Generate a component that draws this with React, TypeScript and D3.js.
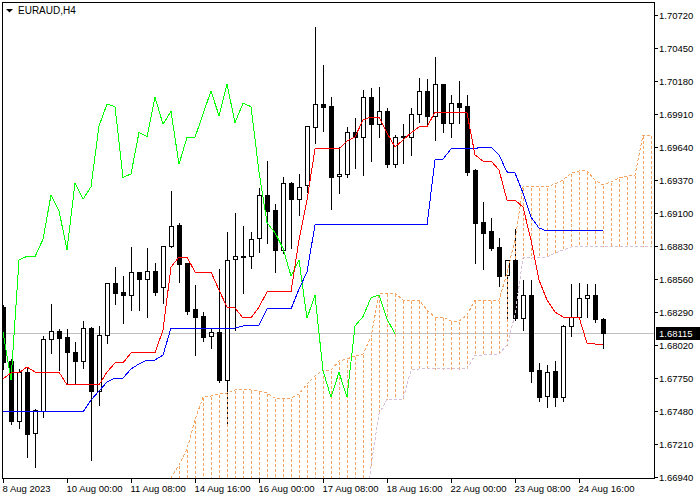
import React from 'react';
import * as d3 from 'd3';

const symbolTitle = 'EURAUD,H4';
const currentPrice = 1.68115;
const chikouShift = 26;

const openPrices = [
  1.68333, 1.67892, 1.67401, 1.67802, 1.67297, 1.67482, 1.68067, 1.68135, 1.68083, 1.67960,
  1.67892, 1.68156, 1.67646, 1.68104, 1.68525, 1.68451, 1.68432, 1.68615, 1.68558, 1.68623,
  1.68497, 1.68827, 1.69002, 1.68688, 1.68312, 1.68257, 1.68094, 1.68124, 1.67734, 1.68721,
  1.68746, 1.68751, 1.68893, 1.69247, 1.69125, 1.68797, 1.69343, 1.69212, 1.69329, 1.69806,
  1.69992, 1.69975, 1.69403, 1.69419, 1.69763, 1.69724, 1.70047, 1.69826, 1.69932, 1.69498,
  1.69730, 1.69719, 1.69908, 1.70098, 1.69896, 1.70153, 1.69839, 1.69998, 1.69975, 1.69452,
  1.69029, 1.68955, 1.68819, 1.68593, 1.68715, 1.68238, 1.68429, 1.67815, 1.67605, 1.67807,
  1.67592, 1.68176, 1.68252, 1.68407, 1.68429, 1.68230,
];
const highPrices = [
  1.68355, 1.67914, 1.67832, 1.67842, 1.67502, 1.68102, 1.68361, 1.68159, 1.68159, 1.68055,
  1.68225, 1.68175, 1.68184, 1.68530, 1.68666, 1.68593, 1.68830, 1.68625, 1.68819, 1.68697,
  1.68838, 1.69288, 1.69026, 1.68699, 1.68519, 1.68301, 1.68165, 1.68650, 1.68953, 1.69111,
  1.69002, 1.68953, 1.69315, 1.69534, 1.69182, 1.69403, 1.69364, 1.69430, 1.69815, 1.70630,
  1.70319, 1.70057, 1.69651, 1.69814, 1.69888, 1.70115, 1.70128, 1.70139, 1.69967, 1.69746,
  1.69834, 1.69970, 1.70210, 1.70202, 1.70385, 1.70160, 1.70074, 1.70188, 1.70071, 1.69468,
  1.69201, 1.69070, 1.68901, 1.68721, 1.68975, 1.68558, 1.68558, 1.67883, 1.67865, 1.67898,
  1.68190, 1.68530, 1.68536, 1.68525, 1.68525, 1.68252,
];
const lowPrices = [
  1.67824, 1.67374, 1.67341, 1.67106, 1.67024, 1.67433, 1.67955, 1.67815, 1.67707, 1.67701,
  1.67829, 1.67079, 1.67529, 1.68039, 1.68355, 1.68202, 1.68306, 1.68306, 1.68247, 1.68429,
  1.68366, 1.68819, 1.68538, 1.68274, 1.67938, 1.68055, 1.67993, 1.67720, 1.67379, 1.68143,
  1.68443, 1.68648, 1.68783, 1.68857, 1.68620, 1.68775, 1.68811, 1.69084, 1.69274, 1.69670,
  1.69773, 1.69130, 1.69266, 1.69392, 1.69466, 1.69411, 1.69528, 1.69719, 1.69479, 1.69479,
  1.69507, 1.69575, 1.69847, 1.69826, 1.69697, 1.69765, 1.69724, 1.69834, 1.69411, 1.68693,
  1.68639, 1.68797, 1.68503, 1.68225, 1.68225, 1.68143, 1.67720, 1.67564, 1.67515, 1.67523,
  1.67564, 1.68094, 1.68238, 1.68252, 1.68211, 1.67998,
];
const closePrices = [
  1.67883, 1.67401, 1.67802, 1.67292, 1.67488, 1.68069, 1.68135, 1.68075, 1.67960, 1.67892,
  1.68156, 1.67646, 1.68104, 1.68525, 1.68448, 1.68432, 1.68615, 1.68558, 1.68623, 1.68456,
  1.68830, 1.68991, 1.68683, 1.68301, 1.68252, 1.68088, 1.68124, 1.67734, 1.68715, 1.68746,
  1.68742, 1.68885, 1.69247, 1.69119, 1.68797, 1.69343, 1.69212, 1.69315, 1.69812, 1.69992,
  1.69970, 1.69392, 1.69419, 1.69760, 1.69724, 1.70047, 1.69826, 1.69932, 1.69498, 1.69719,
  1.69719, 1.69910, 1.70098, 1.69896, 1.70153, 1.69839, 1.69998, 1.69970, 1.69438, 1.69021,
  1.68939, 1.68811, 1.68585, 1.68715, 1.68238, 1.68429, 1.67810, 1.67592, 1.67797, 1.67592,
  1.68176, 1.68252, 1.68407, 1.68429, 1.68230, 1.68115,
];

const tenkanSen = [
  1.67742, 1.67791, 1.67791, 1.67840, 1.67799, 1.67799, 1.67799, 1.67799, 1.67693, 1.67693,
  1.67693, 1.67693, 1.67693, 1.67799, 1.67873, 1.67873, 1.67955, 1.67955, 1.67955, 1.67955,
  1.68143, 1.68658, 1.68740, 1.68740, 1.68617, 1.68617, 1.68617, 1.68470, 1.68331, 1.68323,
  1.68241, 1.68241, 1.68331, 1.68454, 1.68454, 1.68454, 1.68454, 1.68879, 1.69206, 1.69624,
  1.69624, 1.69624, 1.69624, 1.69689, 1.69722, 1.69861, 1.69885, 1.69885, 1.69755, 1.69640,
  1.69697, 1.69755, 1.69804, 1.69804, 1.69926, 1.69926, 1.69926, 1.69926, 1.69918, 1.69575,
  1.69525, 1.69525, 1.69452, 1.69206, 1.69206, 1.69149, 1.68879, 1.68552, 1.68388, 1.68290,
  1.68249, 1.68249, 1.68249, 1.68036, 1.68028, 1.68020,
];
const kijunSen = [
  1.67472, 1.67472, 1.67472, 1.67472, 1.67472, 1.67472, 1.67472, 1.67472, 1.67472, 1.67472,
  1.67472, 1.67570, 1.67644, 1.67717, 1.67750, 1.67750, 1.67824, 1.67865, 1.67897, 1.67897,
  1.67938, 1.68159, 1.68159, 1.68159, 1.68159, 1.68159, 1.68159, 1.68159, 1.68159, 1.68159,
  1.68176, 1.68176, 1.68184, 1.68315, 1.68315, 1.68315, 1.68315, 1.68478, 1.68617, 1.69002,
  1.69002, 1.69002, 1.69002, 1.69002, 1.69002, 1.69002, 1.69002, 1.69002, 1.69002, 1.69002,
  1.69002, 1.69002, 1.69002, 1.69002, 1.69534, 1.69542, 1.69624, 1.69624, 1.69624, 1.69628,
  1.69640, 1.69640, 1.69575, 1.69436, 1.69427, 1.69264, 1.69067, 1.68977, 1.68953, 1.68953,
  1.68953, 1.68953, 1.68953, 1.68953, 1.68953, 1.68953,
];
// Senkou spans, already shifted 26 bars forward (index = bar position on screen)
const senkouSpanA: (number | null)[] = [
  null, null, null, null, null, null, null, null, null, null,
  null, null, null, null, null, null, null, null, null, null,
  1.66826, 1.66932, 1.67038, 1.67169, 1.67406, 1.67595, 1.67603, 1.67619, 1.67627, 1.67652,
  1.67652, 1.67652, 1.67644, 1.67627, 1.67586, 1.67586, 1.67586, 1.67619, 1.67701, 1.67766,
  1.67815, 1.67815, 1.67889, 1.67906, 1.67930, 1.67946, 1.68085, 1.68437, 1.68445, 1.68445,
  1.68388, 1.68388, 1.68388, 1.68306, 1.68249, 1.68249, 1.68216, 1.68216, 1.68265, 1.68388,
  1.68388, 1.68388, 1.68388, 1.68609, 1.68879, 1.69313, 1.69313, 1.69313, 1.69313, 1.69337,
  1.69370, 1.69427, 1.69444, 1.69444, 1.69370, 1.69329, 1.69354, 1.69386, 1.69403, 1.69411,
  1.69738, 1.69738,
];
const senkouSpanB: (number | null)[] = [
  null, null, null, null, null, null, null, null, null, null,
  null, null, null, null, null, null, null, null, null, null,
  null, null, null, null, null, null, null, null, null, null,
  null, null, null, null, null, null, null, null, null, null,
  null, null, null, null, null, 1.66515, 1.67030, 1.67455, 1.67578, 1.67578,
  1.67578, 1.67815, 1.67824, 1.67824, 1.67824, 1.67824, 1.67824, 1.67824, 1.67824, 1.67938,
  1.67938, 1.67946, 1.67946, 1.68020, 1.68265, 1.68732, 1.68732, 1.68740, 1.68740, 1.68773,
  1.68797, 1.68822, 1.68830, 1.68830, 1.68830, 1.68830, 1.68830, 1.68830, 1.68830, 1.68830,
  1.68830, 1.68830,
];

const priceTicks = [
  1.6694, 1.6721, 1.6748, 1.6775, 1.6802, 1.6829, 1.6856, 1.6883,
  1.691, 1.6937, 1.6964, 1.6991, 1.7018, 1.7045, 1.7072,
];
const timeTickBars = [0, 8, 16, 24, 32, 40, 48, 56, 64, 72];
const timeTickLabels = [
  '8 Aug 2023', '10 Aug 00:00', '11 Aug 08:00', '14 Aug 16:00', '16 Aug 00:00',
  '17 Aug 08:00', '18 Aug 16:00', '22 Aug 00:00', '23 Aug 08:00', '24 Aug 16:00',
];

const FONT = '"Liberation Sans", Arial, sans-serif';
const SANDY = '#f4a460';
const THISTLE = '#d8bfd8';

export default function App() {
  const W = 700;
  const H = 500;
  const plotL = 2, plotR = 654, plotT = 2, plotB = 478;
  const lastSlot = senkouSpanA.length - 1;

  const x = d3.scaleLinear().domain([0, lastSlot]).range([3, 651]);
  const y = d3.scaleLinear().domain([1.6694, 1.7072]).range([477, 15]);
  const px = (i: number) => Math.round(x(i)) + 0.5;
  const py = (v: number) => Math.round(y(v)) + 0.5;

  const candles = openPrices.map((o, i) => ({
    i, o, h: highPrices[i], l: lowPrices[i], c: closePrices[i],
  }));
  const chikou = closePrices.slice(chikouShift).map((v, k) => ({ i: k, v }));

  const line = d3
    .line<{ i: number; v: number | null }>()
    .defined((d) => d.v != null)
    .x((d) => x(d.i))
    .y((d) => y(d.v as number));

  const toPts = (arr: (number | null)[]) => arr.map((v, i) => ({ i, v }));

  const hatch = senkouSpanA
    .map((a, i) => ({ i, a, b: senkouSpanB[i] }))
    .filter((d) => d.a != null);

  const bodyOf = (d: typeof candles[number]) => {
    const yTop = py(Math.max(d.o, d.c));
    const yBot = py(Math.min(d.o, d.c));
    const bull = d.c >= d.o;
    const cx = Math.round(x(d.i));
    if (yBot - yTop < 1) {
      return (
        <line key={'b' + d.i} x1={cx - 2} x2={cx + 3} y1={yTop} y2={yTop} stroke="#000" strokeWidth={1} />
      );
    }
    return (
      <rect
        key={'b' + d.i}
        x={cx - 1.5}
        y={yTop}
        width={4}
        height={yBot - yTop}
        fill={bull ? '#fff' : '#000'}
        stroke="#000"
        strokeWidth={1}
      />
    );
  };

  return (
    <svg
      width={W}
      height={H}
      viewBox={`0 0 ${W} ${H}`}
      style={{ position: 'absolute', left: 0, top: 0, display: 'block', background: '#fff' }}
      fontFamily={FONT}
    >
      <defs>
        <clipPath id="plotClip">
          <rect x={plotL + 1} y={plotT + 1} width={plotR - plotL - 1} height={plotB - plotT - 1} />
        </clipPath>
      </defs>
      <rect x={0} y={0} width={W} height={H} fill="#fff" />

      <g clipPath="url(#plotClip)" shapeRendering="crispEdges">
        {/* current price line */}
        <line x1={plotL} x2={plotR} y1={py(currentPrice)} y2={py(currentPrice)} stroke="#c0c0c0" strokeWidth={1} />

        {/* candles: wicks and bodies */}
        {candles.map((d) => (
          <line key={'w' + d.i} x1={px(d.i)} x2={px(d.i)} y1={py(d.h)} y2={py(d.l) + 0.5} stroke="#000" strokeWidth={1} />
        ))}
        {candles.map(bodyOf)}

        {/* kumo hatch */}
        {hatch.map((d) => {
          const a = d.a as number;
          const b = d.b == null ? y.domain()[0] - 0.001 : d.b;
          return (
            <line
              key={'h' + d.i}
              x1={px(d.i)}
              x2={px(d.i)}
              y1={py(a)}
              y2={py(b)}
              stroke={a >= b ? SANDY : THISTLE}
              strokeWidth={1}
              strokeDasharray="3,2"
            />
          );
        })}
        {/* bodies stay solid above the hatch */}
        {candles.map(bodyOf)}

        {/* span lines */}
        <path d={line(toPts(senkouSpanB)) || ''} fill="none" stroke={THISTLE} strokeWidth={1} strokeDasharray="3,2" />
        <path d={line(toPts(senkouSpanA)) || ''} fill="none" stroke={SANDY} strokeWidth={1} strokeDasharray="3,2" />

        {/* chikou, kijun, tenkan */}
        <path d={line(chikou) || ''} fill="none" stroke="#00ff00" strokeWidth={1} />
        <path d={line(toPts(kijunSen)) || ''} fill="none" stroke="#0000ff" strokeWidth={1} />
        <path d={line(toPts(tenkanSen)) || ''} fill="none" stroke="#ff0000" strokeWidth={1} />
      </g>

      {/* frame */}
      <g shapeRendering="crispEdges" stroke="#000" strokeWidth={1}>
        <line x1={plotL + 0.5} x2={plotL + 0.5} y1={plotT} y2={plotB + 1} />
        <line x1={plotL} x2={plotR + 1} y1={plotT + 0.5} y2={plotT + 0.5} />
        <line x1={plotR + 0.5} x2={plotR + 0.5} y1={plotT} y2={plotB + 1} />
        <line x1={plotL} x2={plotR + 1} y1={plotB + 0.5} y2={plotB + 0.5} />
      </g>

      {/* title */}
      <path d="M6,9 L13,9 L9.5,12.5 Z" fill="#000" />
      <text x={18} y={14} fontSize={10} fill="#000">{symbolTitle}</text>

      {/* price axis */}
      <g shapeRendering="crispEdges">
        {priceTicks.map((t) => (
          <g key={'p' + t}>
            <line x1={plotR} x2={plotR + 4} y1={py(t)} y2={py(t)} stroke="#000" />
            <text x={659} y={py(t) + 3.5} fontSize={9.5} fill="#000">{t.toFixed(5)}</text>
          </g>
        ))}
        <rect x={656} y={py(currentPrice) - 6.5} width={44} height={13} fill="#000" />
        <text x={659} y={py(currentPrice) + 3.5} fontSize={9.5} fill="#fff">{currentPrice.toFixed(5)}</text>
      </g>

      {/* time axis */}
      <g shapeRendering="crispEdges">
        {timeTickBars.map((b, k) => (
          <g key={'t' + b}>
            <line x1={px(b)} x2={px(b)} y1={plotB} y2={plotB + 5} stroke="#000" />
            <text x={px(b) - 1} y={491.5} fontSize={9.5} fill="#000">{timeTickLabels[k]}</text>
          </g>
        ))}
      </g>
    </svg>
  );
}
